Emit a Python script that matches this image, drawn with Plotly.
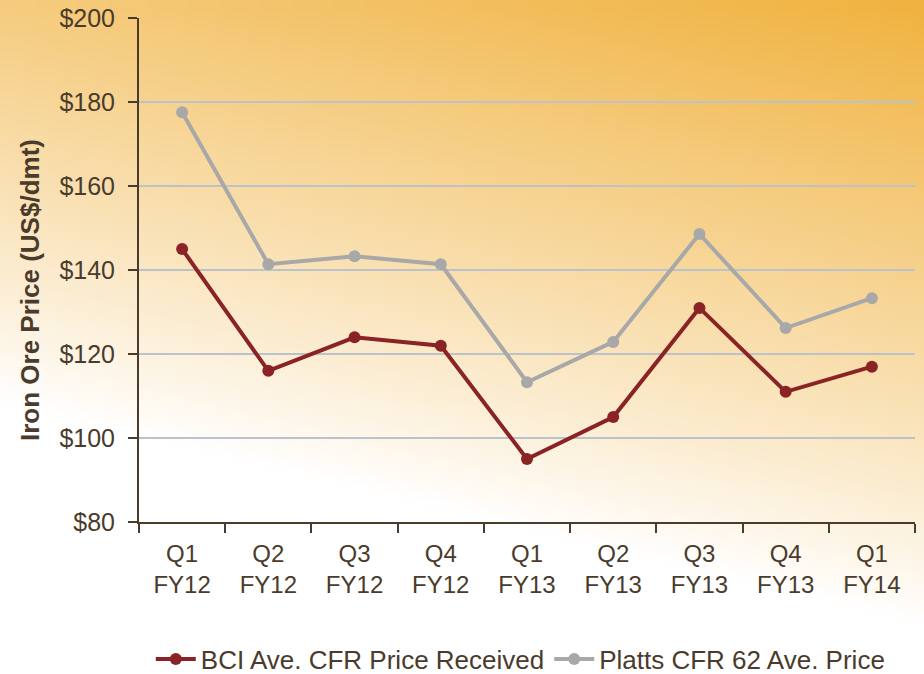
import base64
import struct
import zlib

import plotly.graph_objects as go

# data
quarters = ["Q1<br>FY12", "Q2<br>FY12", "Q3<br>FY12", "Q4<br>FY12", "Q1<br>FY13",
            "Q2<br>FY13", "Q3<br>FY13", "Q4<br>FY13", "Q1<br>FY14"]
bci_price = [145, 116, 124, 122, 95, 105, 131, 111, 117]
platts_price = [177.6, 141.4, 143.3, 141.4, 113.3, 122.9, 148.6, 126.2, 133.3]
y_ticks = [80, 100, 120, 140, 160, 180, 200]
y_tick_text = ["$80", "$100", "$120", "$140", "$160", "$180", "$200"]

W, H = 924, 674
L, R, T, B = 139, 9, 18, 152
TEXT = "#4a3b2c"


def gradient_png(w=116, h=84):
    # diagonal white -> orange wash, orange toward the top right
    orange = (240, 178, 62)
    sx, sy = W / w, H / h
    rows = []
    for j in range(h):
        row = bytearray([0])
        for i in range(w):
            d = (j + 0.5) * sy - 0.24 * (i + 0.5) * sx
            t = max(0.0, min(1.0, (400 - d) / 622))
            t = t ** 0.9
            row += bytes(int(round(255 - t * (255 - c))) for c in orange)
        rows.append(bytes(row))
    raw = b"".join(rows)

    def chunk(tag, data):
        c = struct.pack(">I", len(data)) + tag + data
        return c + struct.pack(">I", zlib.crc32(tag + data) & 0xFFFFFFFF)

    png = b"\x89PNG\r\n\x1a\n"
    png += chunk(b"IHDR", struct.pack(">IIBBBBB", w, h, 8, 2, 0, 0, 0))
    png += chunk(b"IDAT", zlib.compress(raw, 9))
    png += chunk(b"IEND", b"")
    return "data:image/png;base64," + base64.b64encode(png).decode()


pw, ph = W - L - R, H - T - B

fig = go.Figure()
fig.add_trace(go.Scatter(x=quarters, y=bci_price, name="BCI Ave. CFR Price Received",
                         mode="lines+markers",
                         line=dict(color="#8a2325", width=4),
                         marker=dict(color="#8a2325", size=12)))
fig.add_trace(go.Scatter(x=quarters, y=platts_price, name="Platts CFR 62 Ave. Price",
                         mode="lines+markers",
                         line=dict(color="#a8a8a8", width=4),
                         marker=dict(color="#a8a8a8", size=12)))

fig.add_layout_image(dict(source=gradient_png(), xref="paper", yref="paper",
                          x=-L / pw, y=1 + T / ph, sizex=W / pw, sizey=H / ph,
                          xanchor="left", yanchor="top", sizing="stretch",
                          layer="below"))

# y axis title as an annotation, sits a bit below the plot centre like the reference
fig.add_annotation(text="<b>Iron Ore Price (US$/dmt)</b>", textangle=-90,
                   xref="paper", yref="paper",
                   x=(30 - L) / pw, y=1 - (290 - T) / ph,
                   xanchor="center", yanchor="middle", showarrow=False,
                   font=dict(size=26, color=TEXT))

fig.update_layout(
    width=W, height=H,
    margin=dict(l=L, r=R, t=T, b=B, autoexpand=False),
    paper_bgcolor="white",
    plot_bgcolor="rgba(0,0,0,0)",
    font=dict(family="Liberation Sans, Arial, sans-serif", color=TEXT, size=25),
    showlegend=True,
    legend=dict(orientation="h", x=0.492, xanchor="center", y=-(659 - T - ph) / ph,
                yanchor="middle",
                font=dict(size=26, color=TEXT), bgcolor="rgba(0,0,0,0)",
                itemwidth=40, traceorder="normal"),
)

fig.update_xaxes(
    type="category",
    tickson="boundaries",
    ticks="outside", ticklen=9, tickwidth=2, tickcolor=TEXT,
    showline=True, linecolor=TEXT, linewidth=2,
    showgrid=False, zeroline=False,
    range=[-0.5, len(quarters) - 0.5],
    tickfont=dict(size=24, color=TEXT),
    ticklabelstandoff=9,
    ticklabeloverflow="allow",
)

fig.update_yaxes(
    range=[80, 200.05],
    tickvals=y_ticks, ticktext=y_tick_text,
    ticks="outside", ticklen=9, tickwidth=2, tickcolor=TEXT,
    showline=True, linecolor=TEXT, linewidth=2,
    showgrid=True, gridcolor="#bcc2c9", gridwidth=2,
    zeroline=False,
    tickfont=dict(size=25, color=TEXT),
    ticklabelstandoff=8,
    ticklabeloverflow="allow",
)

# drop the default 8px page margin so the figure fills the window exactly
fig.write_html("out.html",
               config={"displayModeBar": False},
               post_script="document.body.style.margin='0';"
                           "document.body.style.overflow='hidden';")
